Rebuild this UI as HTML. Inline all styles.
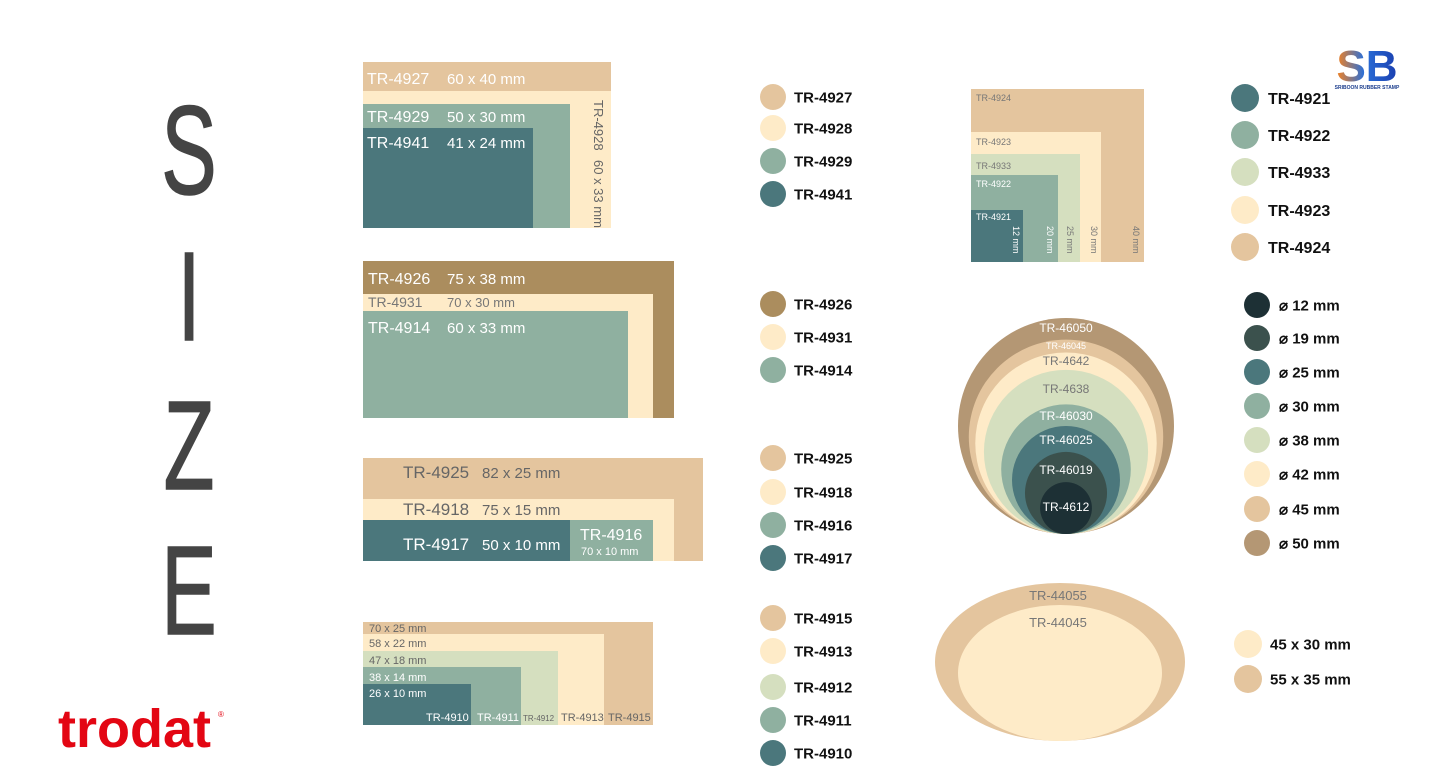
<!DOCTYPE html>
<html><head><meta charset="utf-8"><style>
html,body{margin:0;padding:0;background:#fff;}
svg{display:block;font-family:"Liberation Sans",sans-serif;}
</style></head><body>
<svg id="s" width="1440" height="783" viewBox="0 0 1440 783" xmlns="http://www.w3.org/2000/svg">
<!-- SIZE letters -->
<g fill="#444" stroke="#444" stroke-width="1.5" font-size="126" text-anchor="middle">
<text x="0" y="0" transform="translate(189,194) scale(0.66,1)">S</text>
<text x="0" y="0" transform="translate(189,340) scale(0.66,1)">I</text>
<text x="0" y="0" transform="translate(189,489) scale(0.66,1)">Z</text>
<text x="0" y="0" transform="translate(189,634) scale(0.66,1)">E</text>
</g>
<text x="0" y="0" fill="#e30613" font-size="54" font-weight="bold" transform="translate(58,747) scale(1.0,1)">trodat</text>
<text x="218" y="717" fill="#e30613" font-size="8">®</text>
<defs><linearGradient id="g1" x1="0" x2="1"><stop offset="0" stop-color="#f58220"/><stop offset="0.45" stop-color="#2a6fd8"/><stop offset="1" stop-color="#1a3fb0"/></linearGradient></defs>
<text x="1367" y="81" fill="url(#g1)" font-size="44" font-weight="bold" text-anchor="middle">SB</text>
<text x="1367" y="89" fill="#1a3c8c" font-size="5" font-weight="bold" text-anchor="middle">SRIBOON RUBBER STAMP</text>

<!-- group 1 -->
<g>
<rect x="363" y="62" width="248" height="166" fill="#feebc8"/>
<rect x="363" y="62" width="248" height="29" fill="#e4c59e"/>
<rect x="363" y="104" width="207" height="124" fill="#8fb0a0"/>
<rect x="363" y="128" width="170" height="100" fill="#4b777c"/>
<g fill="#fff" font-size="16"><text x="367" y="84">TR-4927</text><text x="447" y="84" font-size="15">60 x 40 mm</text>
<text x="367" y="122">TR-4929</text><text x="447" y="122" font-size="15">50 x 30 mm</text>
<text x="367" y="148">TR-4941</text><text x="447" y="148" font-size="15">41 x 24 mm</text></g>
<g fill="#666" font-size="13"><text transform="translate(594,100) rotate(90)">TR-4928</text><text transform="translate(594,160) rotate(90)">60 x 33 mm</text></g>
</g>
<!-- group 2 -->
<g>
<rect x="363" y="261" width="311" height="157" fill="#ab8d5e"/>
<rect x="363" y="294" width="290" height="124" fill="#feebc8"/>
<rect x="363" y="311" width="265" height="107" fill="#8fb0a0"/>
<text x="368" y="284" fill="#fff" font-size="16">TR-4926</text><text x="447" y="284" fill="#fff" font-size="15">75 x 38 mm</text>
<text x="368" y="307" fill="#777" font-size="14">TR-4931</text><text x="447" y="307" fill="#777" font-size="13">70 x 30 mm</text>
<text x="368" y="333" fill="#fff" font-size="16">TR-4914</text><text x="447" y="333" fill="#fff" font-size="15">60 x 33 mm</text>
</g>
<!-- group 3 -->
<g>
<rect x="363" y="458" width="340" height="103" fill="#e4c59e"/>
<rect x="363" y="499" width="311" height="62" fill="#feebc8"/>
<rect x="363" y="520" width="207" height="41" fill="#4b777c"/>
<rect x="570" y="520" width="83" height="41" fill="#8fb0a0"/>
<g fill="#666" font-size="17"><text x="403" y="478">TR-4925</text><text x="482" y="478" font-size="15">82 x 25 mm</text>
<text x="403" y="515">TR-4918</text><text x="482" y="515" font-size="15">75 x 15 mm</text></g>
<g fill="#fff"><text x="403" y="550" font-size="17">TR-4917</text><text x="482" y="550" font-size="15">50 x 10 mm</text>
<text x="580" y="540" font-size="16">TR-4916</text><text x="581" y="555" font-size="11">70 x 10 mm</text></g>
</g>
<!-- group 4 -->
<g>
<rect x="363" y="622" width="290" height="103" fill="#e4c59e"/>
<rect x="363" y="634" width="241" height="91" fill="#feebc8"/>
<rect x="363" y="651" width="195" height="74" fill="#d5dfbf"/>
<rect x="363" y="667" width="158" height="58" fill="#8fb0a0"/>
<rect x="363" y="684" width="108" height="41" fill="#4b777c"/>
<g font-size="11" fill="#666"><text x="369" y="632">70 x 25 mm</text><text x="369" y="647">58 x 22 mm</text><text x="369" y="664">47 x 18 mm</text>
<text x="369" y="681" fill="#fff">38 x 14 mm</text><text x="369" y="697" fill="#fff">26 x 10 mm</text>
<text x="426" y="721" fill="#fff">TR-4910</text><text x="477" y="721" fill="#fff">TR-4911</text><text x="523" y="721" font-size="8">TR-4912</text><text x="561" y="721">TR-4913</text><text x="608" y="721">TR-4915</text></g>
</g>
<!-- square group -->
<g font-size="9">
<rect x="971" y="89" width="173" height="173" fill="#e4c59e"/>
<rect x="971" y="132" width="130" height="130" fill="#feebc8"/>
<rect x="971" y="154" width="109" height="108" fill="#d5dfbf"/>
<rect x="971" y="175" width="87" height="87" fill="#8fb0a0"/>
<rect x="971" y="210" width="52" height="52" fill="#4b777c"/>
<g fill="#777"><text x="976" y="101">TR-4924</text><text x="976" y="145">TR-4923</text><text x="976" y="169">TR-4933</text></g>
<g fill="#fff"><text x="976" y="187">TR-4922</text><text x="976" y="220">TR-4921</text>
<text transform="translate(1013,226) rotate(90)">12 mm</text><text transform="translate(1047,226) rotate(90)">20 mm</text></g>
<g fill="#777"><text transform="translate(1067,226) rotate(90)">25 mm</text><text transform="translate(1091,226) rotate(90)">30 mm</text><text transform="translate(1133,226) rotate(90)">40 mm</text></g>
</g>
<!-- ellipses -->
<g>
<ellipse cx="1060" cy="662" rx="125" ry="79" fill="#e4c59e"/>
<ellipse cx="1060" cy="673" rx="102" ry="68" fill="#feebc8"/>
<text x="1058" y="600" fill="#777" font-size="13" text-anchor="middle">TR-44055</text>
<text x="1058" y="627" fill="#777" font-size="13" text-anchor="middle">TR-44045</text>
</g>
<g id="circles"></g>
<g id="legends" font-weight="bold" fill="#111"></g>
</svg>
<script>
const roundNames = ["TR-46050","TR-46045","TR-4642","TR-4638","TR-46030","TR-46025","TR-46019","TR-4612"];
const roundDiam = [50,45,42,38,30,25,19,12];
const roundColors = ["#b49774","#e4c59e","#feebc8","#d5dfbf","#8fb0a0","#4b777c","#3b514d","#1d3035"];
const roundLabelY = [332,349,365,393,420,444,474,511];
const NS="http://www.w3.org/2000/svg";
const cg=document.getElementById('circles');
const cx=1066, bottom=534, scale=108/25;
roundDiam.forEach((d,i)=>{
  const r=d/2*scale;
  const c=document.createElementNS(NS,'circle');
  c.setAttribute('cx',cx);c.setAttribute('cy',bottom-r);c.setAttribute('r',r);c.setAttribute('fill',roundColors[i]);
  
  
  cg.appendChild(c);
});
roundNames.forEach((n,i)=>{
  const t=document.createElementNS(NS,'text');
  t.setAttribute('x',cx);t.setAttribute('y',roundLabelY[i]);t.setAttribute('text-anchor','middle');
  t.setAttribute('font-size',i==1?9:12);
  t.setAttribute('fill',(i>=2&&i<=3)?'#777':'#fff');
  t.textContent=n;
  
  
  cg.appendChild(t);
});
const legendItems=[
 [773,97,13,794,15,"#e4c59e","TR-4927"],[773,128,13,794,15,"#feebc8","TR-4928"],[773,161,13,794,15,"#8fb0a0","TR-4929"],[773,194,13,794,15,"#4b777c","TR-4941"],
 [773,304,13,794,15,"#ab8d5e","TR-4926"],[773,337,13,794,15,"#feebc8","TR-4931"],[773,370,13,794,15,"#8fb0a0","TR-4914"],
 [773,458,13,794,15,"#e4c59e","TR-4925"],[773,492,13,794,15,"#feebc8","TR-4918"],[773,525,13,794,15,"#8fb0a0","TR-4916"],[773,558,13,794,15,"#4b777c","TR-4917"],
 [773,618,13,794,15,"#e4c59e","TR-4915"],[773,651,13,794,15,"#feebc8","TR-4913"],[773,687,13,794,15,"#d5dfbf","TR-4912"],[773,720,13,794,15,"#8fb0a0","TR-4911"],[773,753,13,794,15,"#4b777c","TR-4910"],
 [1245,98,14,1268,16,"#4b777c","TR-4921"],[1245,135,14,1268,16,"#8fb0a0","TR-4922"],[1245,172,14,1268,16,"#d5dfbf","TR-4933"],[1245,210,14,1268,16,"#feebc8","TR-4923"],[1245,247,14,1268,16,"#e4c59e","TR-4924"],
 [1248,644,14,1270,15,"#feebc8","45 x 30 mm"],[1248,679,14,1270,15,"#e4c59e","55 x 35 mm"]
];
const diaY=[305,338,372,406,440,474,509,543];
roundDiam.slice().reverse().forEach((d,i)=>{
  legendItems.push([1257,diaY[i],13,1279,15,roundColors[roundColors.length-1-i],"\u2300 "+d+" mm"]);
});
const lg=document.getElementById('legends');
legendItems.forEach(it=>{
  const c=document.createElementNS(NS,'circle');
  c.setAttribute('cx',it[0]);c.setAttribute('cy',it[1]);c.setAttribute('r',it[2]);c.setAttribute('fill',it[5]);
  
  
  lg.appendChild(c);
  const t=document.createElementNS(NS,'text');
  t.setAttribute('x',it[3]);t.setAttribute('y',it[1]+it[4]*0.36);t.setAttribute('font-size',it[4]);
  t.textContent=it[6];
  
  
  lg.appendChild(t);
});
</script>
</body></html>
